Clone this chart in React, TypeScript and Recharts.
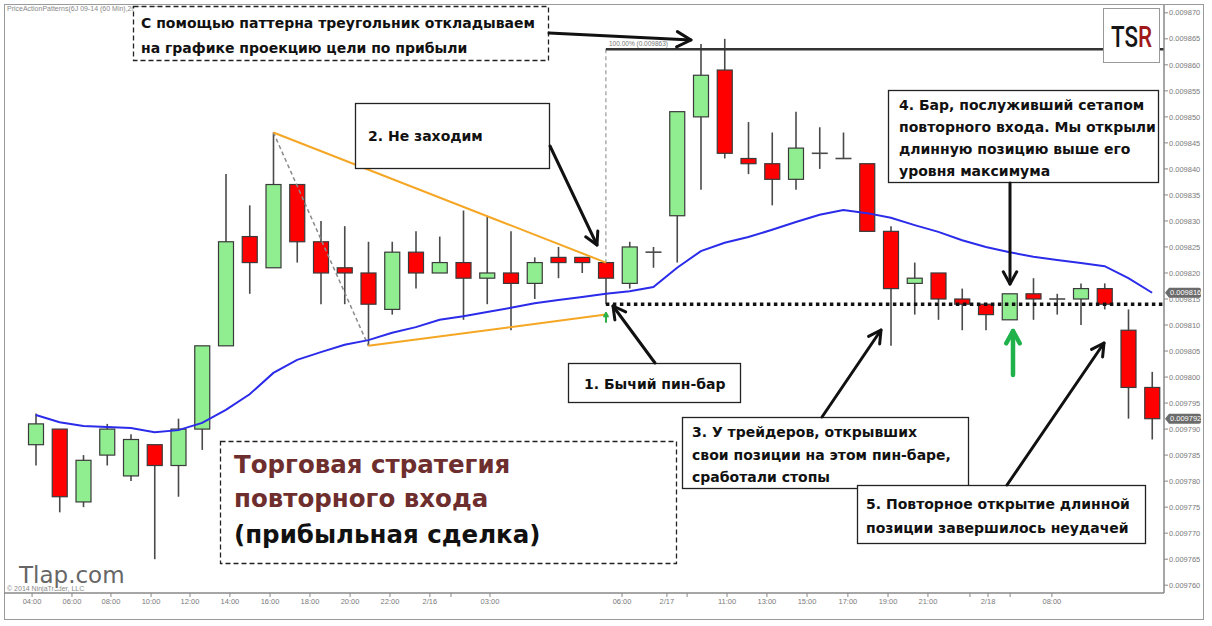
import React from 'react';
import { ComposedChart, Bar, Line, XAxis, YAxis, ReferenceLine } from 'recharts';

// ---- data (6J 60-min bars) ----
const opens = [0.009787,0.009790,0.009776,0.009785,0.009781,0.009787,0.009783,0.009790,0.009806,0.009827,0.009821,0.009837,0.009826,0.009821,0.009820,0.009813,0.009824,0.009820,0.009822,0.009819,0.009820,0.009818,0.009823,0.009823,0.009822,0.009818,0.009824,0.009831,0.009850,0.009859,0.009842,0.009841,0.009838,0.009843,0.009842,0.009841,0.009828,0.009818,0.009820,0.009815,0.009814,0.009811,0.009816,0.009815,0.009815,0.009817,0.009809,0.009798];
const highs = [0.009793,0.009790,0.009785,0.009791,0.009789,0.009787,0.009792,0.009806,0.009839,0.009833,0.009847,0.009837,0.009830,0.009829,0.009826,0.009826,0.009828,0.009827,0.009832,0.009831,0.009828,0.009823,0.009825,0.009823,0.009822,0.009826,0.009825,0.009851,0.009864,0.009865,0.009849,0.009847,0.009851,0.009848,0.009847,0.009841,0.009829,0.009822,0.009820,0.009817,0.009814,0.009816,0.009819,0.009816,0.009818,0.009818,0.009813,0.009801];
const lows = [0.009783,0.009774,0.009775,0.009783,0.009780,0.009765,0.009777,0.009786,0.009806,0.009816,0.009821,0.009822,0.009814,0.009814,0.009806,0.009812,0.009817,0.009820,0.009811,0.009814,0.009809,0.009815,0.009819,0.009820,0.009814,0.009817,0.009821,0.009822,0.009836,0.009842,0.009839,0.009833,0.009836,0.009840,0.009842,0.009828,0.009806,0.009812,0.009811,0.009809,0.009809,0.009811,0.009811,0.009812,0.009810,0.009813,0.009792,0.009788];
const closes = [0.009791,0.009777,0.009784,0.009790,0.009788,0.009783,0.009790,0.009806,0.009826,0.009822,0.009837,0.009826,0.009820,0.009820,0.009814,0.009824,0.009820,0.009822,0.009819,0.009820,0.009818,0.009822,0.009822,0.009822,0.009819,0.009825,0.009824,0.009851,0.009858,0.009843,0.009841,0.009838,0.009844,0.009843,0.009842,0.009828,0.009817,0.009819,0.009815,0.009814,0.009812,0.009816,0.009815,0.009815,0.009817,0.009814,0.009798,0.009792];
const ma = [0.0097927,0.0097913,0.0097906,0.0097904,0.0097902,0.0097894,0.0097898,0.0097912,0.0097937,0.0097967,0.0098008,0.0098033,0.0098048,0.0098062,0.0098071,0.0098085,0.0098096,0.0098110,0.0098117,0.0098125,0.0098133,0.0098142,0.0098148,0.0098154,0.0098160,0.0098165,0.0098173,0.0098210,0.0098242,0.0098258,0.0098269,0.0098283,0.0098298,0.0098312,0.0098321,0.0098315,0.0098306,0.0098292,0.0098279,0.0098263,0.0098250,0.0098240,0.0098231,0.0098225,0.0098219,0.0098213,0.0098190,0.0098162];

const yTicks = [0.00976,0.009765,0.00977,0.009775,0.00978,0.009785,0.00979,0.009795,0.0098,0.009805,0.00981,0.009815,0.00982,0.009825,0.00983,0.009835,0.00984,0.009845,0.00985,0.009855,0.00986,0.009865,0.00987];
const xTickPos = [-0.16,1.52,3.16,4.85,6.49,8.17,9.86,11.54,13.23,14.91,16.59,17.48,19.12,24.68,26.57,27.42,29.1,30.78,32.47,34.19,35.88,37.56,39.33,40.09,41.02,42.78];
const xTickLabels = ['04:00','06:00','08:00','10:00','12:00','14:00','16:00','18:00','20:00','22:00','2/16','','03:00','06:00','2/17','','11:00','13:00','15:00','17:00','19:00','21:00','','2/18','','08:00'];

// pattern anchors (bar indices)
const triTopBar = 10;
const triBottomBar = 14;
const pinBar = 24;
const triLowerEnd = 0.009812;
const lastSlot = 47.5;

const data = opens.map((o, i) => ({ i, o, h: highs[i], l: lows[i], c: closes[i], ma: ma[i] }));
const target = highs[pinBar] + (highs[triTopBar] - lows[triBottomBar]);

// ---- annotation texts ----
const noteTarget = ['С помощью паттерна треугольник откладываем', 'на графике проекцию цели по прибыли'];
const note2 = ['2. Не заходим'];
const note1 = ['1. Бычий пин-бар'];
const note3 = ['3. У трейдеров, открывших', 'свои позиции на этом пин-баре,', 'сработали стопы'];
const note4 = ['4. Бар, послуживший сетапом', 'повторного входа. Мы открыли', 'длинную позицию выше его', 'уровня максимума'];
const note5 = ['5. Повторное открытие длинной', 'позиции завершилось неудачей'];
const titleLines = ['Торговая стратегия', 'повторного входа', '(прибыльная сделка)'];

function Candle(props: any) {
  const { x, y, width, height, payload } = props;
  if (!payload) return null;
  const { o, h, l, c } = payload;
  const top = Math.min(y, y + height);
  const ht = Math.abs(height);
  const span = h - l || 1e-9;
  const py = (v: number) => top + ((h - v) / span) * ht;
  const cx = x + width / 2;
  const bTop = py(Math.max(o, c));
  const bBot = py(Math.min(o, c));
  const up = c >= o;
  const flat = bBot - bTop < 1.5;
  return (
    <g>
      <line x1={cx} x2={cx} y1={top} y2={top + ht} stroke="#4a4a4a" strokeWidth={1.6} />
      {flat ? (
        <line x1={x} x2={x + width} y1={bTop} y2={bTop} stroke="#4a4a4a" strokeWidth={1.6} />
      ) : (
        <rect x={x + 0.5} y={bTop} width={width - 1} height={bBot - bTop} fill={up ? '#90ee90' : '#ff0000'} stroke="#3a3a3a" strokeWidth={1.2} />
      )}
    </g>
  );
}

function PriceTag(props: any) {
  const vb = props.viewBox || {};
  const x0 = (vb.x || 0) + (vb.width || 0);
  const y0 = vb.y || 0;
  return (
    <g>
      <path d={`M${x0 + 1},${y0} L${x0 + 5},${y0 - 5} L${x0 + 35},${y0 - 5} Q${x0 + 37},${y0 - 5} ${x0 + 37},${y0 - 3} L${x0 + 37},${y0 + 3} Q${x0 + 37},${y0 + 5} ${x0 + 35},${y0 + 5} L${x0 + 5},${y0 + 5} Z`} fill="#6b6b6b" />
      <text x={x0 + 6} y={y0 + 2.6} fontSize={7.5} fill="#fff" fontFamily='"Liberation Sans", Arial, sans-serif'>{props.text}</text>
    </g>
  );
}

function Arrow({ x1, y1, x2, y2, color = '#111', w = 3, head = 14 }: any) {
  const a = Math.atan2(y2 - y1, x2 - x1);
  const s = 0.5;
  const p1 = `${x2 - head * Math.cos(a - s)},${y2 - head * Math.sin(a - s)}`;
  const p2 = `${x2 - head * Math.cos(a + s)},${y2 - head * Math.sin(a + s)}`;
  return (
    <g stroke={color} strokeWidth={w} strokeLinecap="round" strokeLinejoin="round" fill="none">
      <line x1={x1} y1={y1} x2={x2} y2={y2} />
      <polyline points={`${p1} ${x2},${y2} ${p2}`} />
    </g>
  );
}

const annFont = { fontFamily: '"DejaVu Sans", sans-serif', fontSize: 14, fontWeight: 700, fill: '#111' } as any;

function Note({ x, y, w, h, lines, tx, ty, lh, dashed = false }: any) {
  return (
    <g>
      <rect x={x} y={y} width={w} height={h} fill="#fff" stroke="#222" strokeWidth={1.3} strokeDasharray={dashed ? '5 3' : undefined} />
      {lines.map((t: string, k: number) => (
        <text key={k} x={tx} y={ty + k * lh} {...annFont}>{t}</text>
      ))}
    </g>
  );
}

const axisFont = { fontSize: 7.5, fill: '#7a7a7a', fontFamily: '"Liberation Sans", Arial, sans-serif' };

export default function App() {
  return (
    <div style={{ position: 'absolute', left: 0, top: 0, width: 1212, height: 626, background: '#fff', overflow: 'hidden' }}>
      <div style={{ position: 'absolute', left: 0, top: 0 }}>
        <ComposedChart width={1212} height={626} data={data} margin={{ top: 5, right: 0, bottom: 9, left: 24 }}>
          <XAxis
            dataKey="i"
            type="number"
            domain={[-0.5, lastSlot]}
            allowDataOverflow
            ticks={xTickPos}
            interval={0}
            tickFormatter={(v: number) => xTickLabels[xTickPos.indexOf(v)] ?? ''}
            height={24}
            tickSize={4}
            tick={axisFont}
            tickLine={{ stroke: '#888' }}
            axisLine={{ stroke: '#888', strokeWidth: 1.5 }}
          />
          <YAxis
            orientation="right"
            domain={[0.0097585, 0.0098715]}
            allowDataOverflow
            ticks={yTicks}
            interval={0}
            tickFormatter={(v: number) => v.toFixed(6)}
            width={48}
            tickSize={4}
            tickMargin={1}
            tick={axisFont}
            tickLine={{ stroke: '#888' }}
            axisLine={{ stroke: '#888', strokeWidth: 1.5 }}
          />
          <ReferenceLine ifOverflow="visible" segment={[{ x: triTopBar, y: highs[triTopBar] }, { x: triBottomBar, y: lows[triBottomBar] }]} stroke="#8a8a8a" strokeWidth={1.5} strokeDasharray="4 3" />
          <ReferenceLine ifOverflow="visible" segment={[{ x: pinBar, y: target }, { x: pinBar, y: highs[pinBar] }]} stroke="#a0a0a0" strokeWidth={1.3} strokeDasharray="4 3" />
          <ReferenceLine ifOverflow="visible" segment={[{ x: pinBar, y: target }, { x: lastSlot, y: target }]} stroke="#333" strokeWidth={2.5} />
          <ReferenceLine ifOverflow="visible" segment={[{ x: pinBar, y: lows[pinBar] }, { x: lastSlot, y: lows[pinBar] }]} stroke="#111" strokeWidth={3.5} strokeDasharray="3.5 3.5" />
          <Bar dataKey={(d: any) => [d.l, d.h]} shape={Candle} barSize={16} isAnimationActive={false} />
          <Line dataKey="ma" stroke="#2b2bea" strokeWidth={2} dot={false} activeDot={false} isAnimationActive={false} />
          <ReferenceLine ifOverflow="visible" segment={[{ x: triTopBar, y: highs[triTopBar] }, { x: pinBar, y: highs[pinBar] }]} stroke="#f5a623" strokeWidth={2} />
          <ReferenceLine ifOverflow="visible" segment={[{ x: triBottomBar, y: lows[triBottomBar] }, { x: pinBar, y: triLowerEnd }]} stroke="#f5a623" strokeWidth={2} />
          <ReferenceLine y={ma[ma.length - 1]} stroke="none" label={(p: any) => <PriceTag {...p} text={ma[ma.length - 1].toFixed(6)} />} />
          <ReferenceLine y={closes[closes.length - 1]} stroke="none" label={(p: any) => <PriceTag {...p} text={closes[closes.length - 1].toFixed(6)} />} />
        </ComposedChart>
      </div>
      <svg width={1212} height={626} style={{ position: 'absolute', left: 0, top: 0, pointerEvents: 'none' }}>
        <rect x={4.5} y={4.5} width={1199} height={615} fill="none" stroke="#9a9a9a" strokeWidth={1} />
        <line x1={4} y1={593} x2={24} y2={593} stroke="#888" strokeWidth={1.5} />
        <text x={7} y={11} fontSize={7} fill="#888" fontFamily='"Liberation Sans", Arial, sans-serif'>PriceActionPatterns(6J 09-14 (60 Min),20,True,True)</text>
        <text x={7} y={591} fontSize={7} fill="#888" fontFamily='"Liberation Sans", Arial, sans-serif'>© 2014 NinjaTrader, LLC</text>
        <text x={609} y={46} fontSize={6.5} fill="#777" fontFamily='"Liberation Sans", Arial, sans-serif'>100.00% ({target.toFixed(6)})</text>

        <Note x={133.5} y={6.5} w={415} h={54} lines={noteTarget} tx={141} ty={28} lh={25} dashed />
        <Note x={355.5} y={103.5} w={194} h={65} lines={note2} tx={368} ty={141} lh={22} />
        <Note x={568.5} y={363.5} w={172} h={39} lines={note1} tx={584} ty={389} lh={22} />
        <Note x={682.5} y={417.5} w={286} h={71} lines={note3} tx={692} ty={437} lh={22.5} />
        <Note x={888.5} y={90.5} w={270} h={92} lines={note4} tx={899} ty={110} lh={22} />
        <Note x={857.5} y={485.5} w={288} h={58} lines={note5} tx={866} ty={509} lh={24} />

        <rect x={220.5} y={441.5} width={456} height={122} fill="#fff" stroke="#222" strokeWidth={1.3} strokeDasharray="5 3" />
        <text x={234} y={473} fontFamily='"DejaVu Sans", sans-serif' fontSize={24.5} fontWeight={700} fill="#6e2e2e">{titleLines[0]}</text>
        <text x={234} y={507} fontFamily='"DejaVu Sans", sans-serif' fontSize={24.5} fontWeight={700} fill="#6e2e2e">{titleLines[1]}</text>
        <text x={234} y={543} fontFamily='"DejaVu Sans", sans-serif' fontSize={24.5} fontWeight={700} fill="#111">{titleLines[2]}</text>

        <text x={19} y={583} fontFamily='"DejaVu Sans", sans-serif' fontSize={23} fill="#666" stroke="#fff" strokeWidth={3} paintOrder="stroke">Tlap.com</text>

        <rect x={1103.5} y={8.5} width={56} height={54} fill="#fff" stroke="#999" strokeWidth={1} />
        <text x={1111} y={47} fontFamily='Roboto, "Liberation Sans", sans-serif' fontSize={30} fontWeight={500} textLength={41} lengthAdjust="spacingAndGlyphs">
          <tspan fill="#151515">TS</tspan><tspan fill="#a01818">R</tspan>
        </text>

        <Arrow x1={549} y1={33} x2={691} y2={40} head={16} />
        <Arrow x1={550} y1={146} x2={597} y2={245} />
        <Arrow x1={655} y1={363} x2={613} y2={306} />
        <Arrow x1={822} y1={417} x2={881} y2={330} />
        <Arrow x1={1010} y1={183} x2={1010} y2={284} />
        <Arrow x1={1007} y1={485} x2={1104} y2={343} />
        <Arrow x1={1013} y1={375} x2={1013} y2={331} color="#1fb14a" w={4.5} head={14} />
        <Arrow x1={606} y1={322} x2={606} y2={313} color="#2fb14a" w={2} head={4} />
      </svg>
    </div>
  );
}
